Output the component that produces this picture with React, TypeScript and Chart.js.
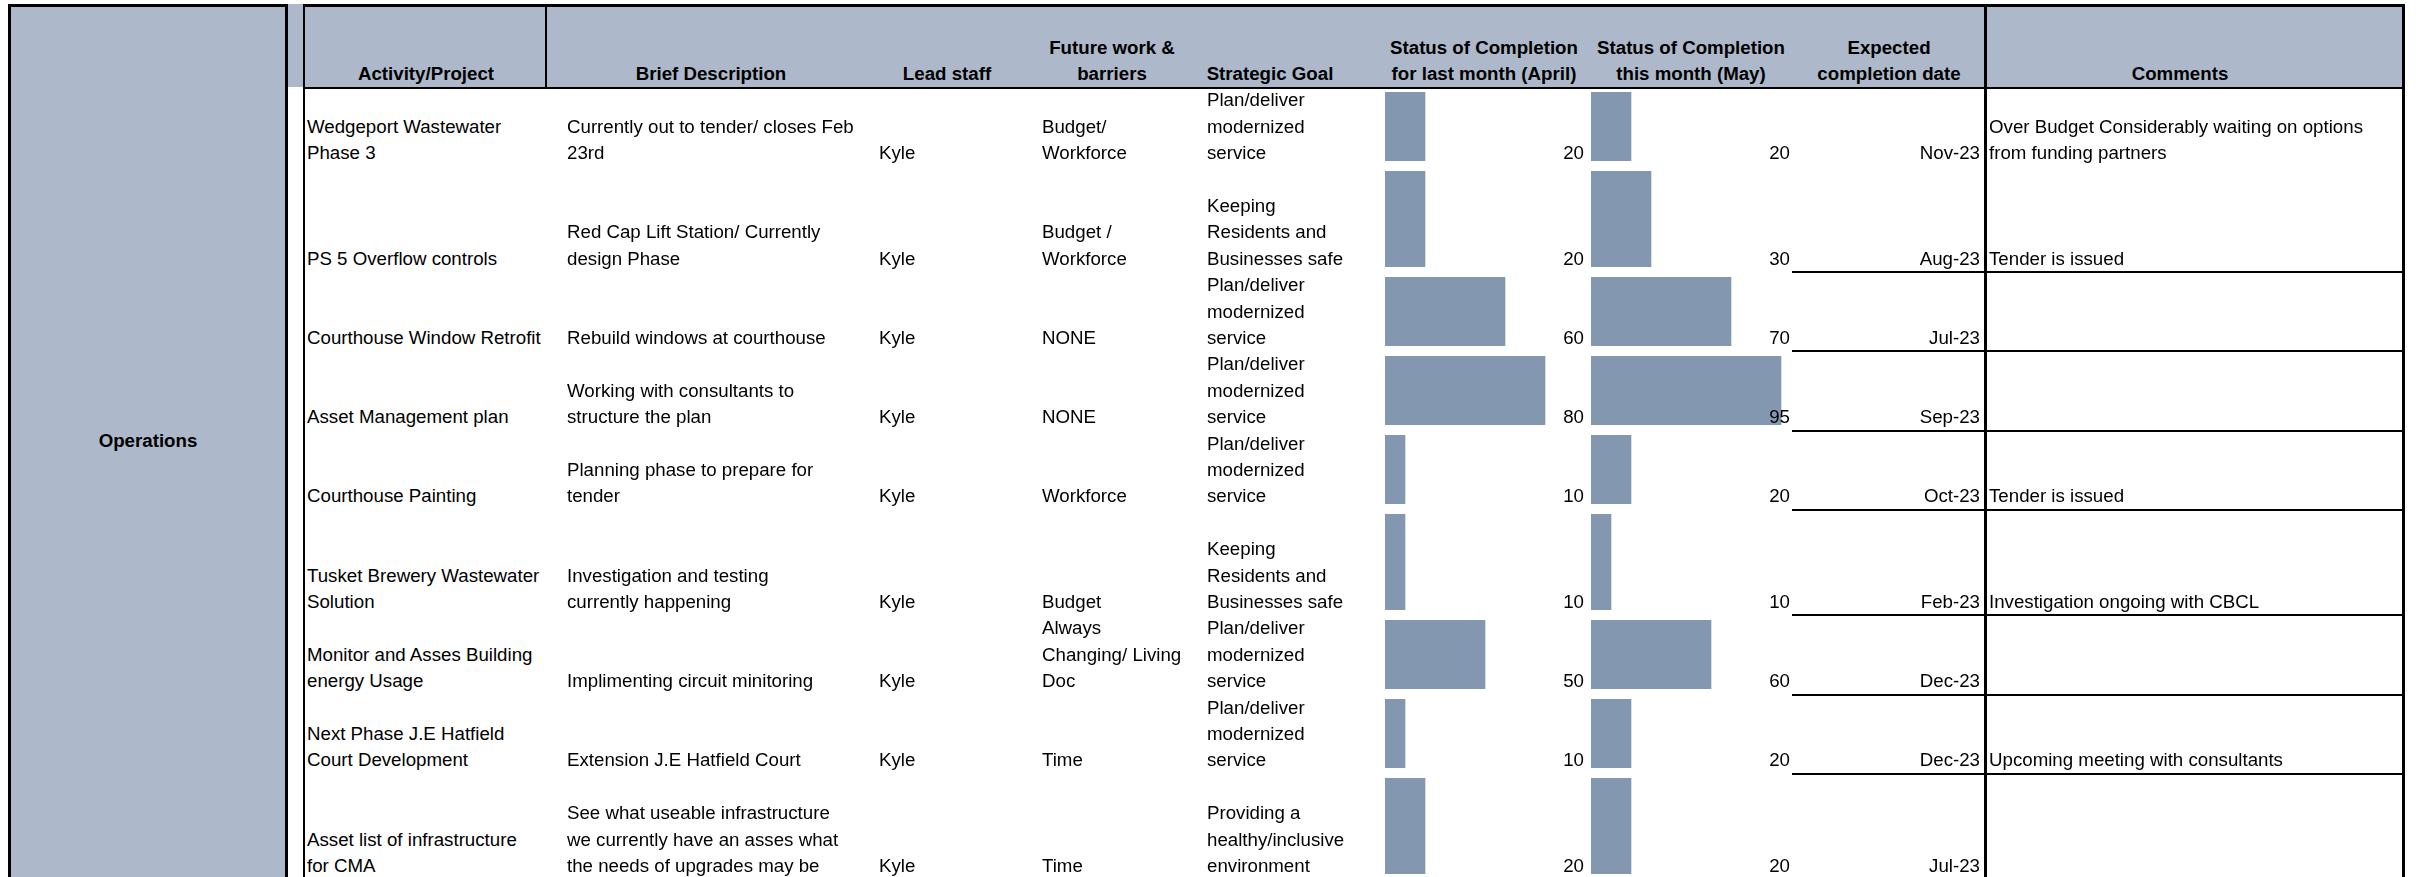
import React, { useEffect, useRef } from "react";
import { Chart, registerables } from "chart.js";

Chart.register(...registerables);

// ---------- data ----------
const department = "Operations";

const headerLabels = [
  "Activity/Project",
  "Brief Description",
  "Lead staff",
  "Future work &\nbarriers",
  "Strategic Goal",
  "Status of Completion\nfor last month (April)",
  "Status of Completion\nthis month (May)",
  "Expected\ncompletion date",
  "Comments",
];

const activities = [
  "Wedgeport Wastewater\nPhase 3",
  "PS 5 Overflow controls",
  "Courthouse Window Retrofit",
  "Asset Management plan",
  "Courthouse Painting",
  "Tusket Brewery Wastewater\nSolution",
  "Monitor and Asses Building\nenergy Usage",
  "Next Phase J.E Hatfield\nCourt Development",
  "Asset list of infrastructure\nfor CMA",
];

const descriptions = [
  "Currently out to tender/ closes Feb\n23rd",
  "Red Cap Lift Station/ Currently\ndesign Phase",
  "Rebuild windows at courthouse",
  "Working with consultants to\nstructure the plan",
  "Planning phase to prepare for\ntender",
  "Investigation and testing\ncurrently happening",
  "Implimenting circuit minitoring",
  "Extension J.E Hatfield Court",
  "See what useable infrastructure\nwe currently have an asses what\nthe needs of upgrades may be",
];

const leadStaff = ["Kyle", "Kyle", "Kyle", "Kyle", "Kyle", "Kyle", "Kyle", "Kyle", "Kyle"];

const barriers = [
  "Budget/\nWorkforce",
  "Budget /\nWorkforce",
  "NONE",
  "NONE",
  "Workforce",
  "Budget",
  "Always\nChanging/ Living\nDoc",
  "Time",
  "Time",
];

const strategicGoals = [
  "Plan/deliver\nmodernized\nservice",
  "Keeping\nResidents and\nBusinesses safe",
  "Plan/deliver\nmodernized\nservice",
  "Plan/deliver\nmodernized\nservice",
  "Plan/deliver\nmodernized\nservice",
  "Keeping\nResidents and\nBusinesses safe",
  "Plan/deliver\nmodernized\nservice",
  "Plan/deliver\nmodernized\nservice",
  "Providing a\nhealthy/inclusive\nenvironment",
];

const aprilStatus = [20, 20, 60, 80, 10, 10, 50, 10, 20];
const mayStatus = [20, 30, 70, 95, 20, 10, 60, 20, 20];

const completionDates = ["Nov-23", "Aug-23", "Jul-23", "Sep-23", "Oct-23", "Feb-23", "Dec-23", "Dec-23", "Jul-23"];

const comments = [
  "Over Budget Considerably waiting on options\nfrom funding partners",
  "Tender is issued",
  "",
  "",
  "Tender is issued",
  "Investigation ongoing with CBCL",
  "",
  "Upcoming meeting with consultants",
  "",
];

// ---------- layout / style ----------
const rowLines = [3, 4, 3, 3, 3, 4, 3, 3, 4];
const LINE_H = 26.4;
const HEADER_TOP = 4;
const HEADER_BOTTOM = 87.4;
const FONT = '"Liberation Sans", Arial, sans-serif';
const FONT_SIZE = 18.7;
const HEADER_BG = "#ADB9CA";
const BAR_COLOR = "#8497B0";

const rowTops: number[] = [];
{
  let y = HEADER_BOTTOM;
  for (const n of rowLines) {
    rowTops.push(y);
    y += n * LINE_H;
  }
}

function StatusBar({ value, left, top, height }: { value: number; left: number; top: number; height: number }) {
  const ref = useRef<HTMLCanvasElement | null>(null);
  useEffect(() => {
    const canvas = ref.current;
    if (!canvas) return;
    const chart = new Chart(canvas, {
      type: "bar",
      data: {
        labels: [""],
        datasets: [
          {
            data: [value],
            backgroundColor: BAR_COLOR,
            borderWidth: 0,
            barPercentage: 1,
            categoryPercentage: 1,
          },
        ],
      },
      options: {
        indexAxis: "y",
        responsive: false,
        animation: false,
        events: [],
        layout: { padding: 0 },
        plugins: { legend: { display: false }, tooltip: { enabled: false } },
        scales: {
          x: { display: false, min: 0, max: 100 },
          y: { display: false },
        },
      },
    });
    return () => chart.destroy();
  }, [value, height]);
  return (
    <canvas
      ref={ref}
      width={200}
      height={height}
      style={{ position: "absolute", left, top, width: 200, height }}
    />
  );
}

const textBase: React.CSSProperties = {
  position: "absolute",
  display: "flex",
  flexDirection: "column",
  justifyContent: "flex-end",
  whiteSpace: "pre",
  lineHeight: `${LINE_H}px`,
  fontFamily: FONT,
  fontSize: FONT_SIZE,
  color: "#000",
  zIndex: 2,
};

function Cell({
  text,
  x,
  top,
  height,
  align,
  bold,
}: {
  text: string;
  x: number;
  top: number;
  height: number;
  align: "left" | "right" | "center";
  bold?: boolean;
}) {
  const w = 420;
  let left = x;
  if (align === "right") left = x - w;
  if (align === "center") left = x - w / 2;
  return (
    <div style={{ ...textBase, left, top, height, width: w, textAlign: align, fontWeight: bold ? "bold" : "normal" }}>
      {text.split("\n").map((l, i) => (
        <div key={i}>{l}</div>
      ))}
    </div>
  );
}

function Line({ x, y, w, h }: { x: number; y: number; w: number; h: number }) {
  return <div style={{ position: "absolute", left: x, top: y, width: w, height: h, background: "#000", zIndex: 3 }} />;
}

const headerCenters = [426, 711, 947, 1112, 1270, 1484, 1691, 1889, 2180];

export default function App() {
  const rowLinesDrawn = [1, 2, 3, 4, 5, 6, 7];
  return (
    <div
      style={{
        position: "fixed",
        left: 0,
        top: 0,
        width: 2416,
        height: 877,
        overflow: "hidden",
        background: "#fff",
        fontFamily: FONT,
      }}
    >
      {/* left merged panel */}
      <div
        style={{
          position: "absolute",
          left: 8,
          top: 4,
          width: 280,
          height: 890,
          background: HEADER_BG,
          boxSizing: "border-box",
          border: "3px solid #000",
        }}
      />
      <div
        style={{
          position: "absolute",
          left: 8,
          top: 4,
          width: 280,
          height: 874,
          display: "flex",
          alignItems: "center",
          justifyContent: "center",
          fontWeight: "bold",
          fontSize: FONT_SIZE,
          fontFamily: FONT,
          zIndex: 4,
        }}
      >
        {department}
      </div>

      {/* header fill */}
      <div style={{ position: "absolute", left: 288, top: 4, width: 2117, height: HEADER_BOTTOM - 4, background: HEADER_BG }} />

      {/* header texts */}
      {headerLabels.map((h, i) => (
        <Cell key={"h" + i} text={h} x={headerCenters[i]} top={HEADER_TOP} height={HEADER_BOTTOM - HEADER_TOP} align="center" bold />
      ))}

      {/* bars */}
      {aprilStatus.map((v, i) => (
        <StatusBar key={"a" + i} value={v} left={1385} top={Math.round(rowTops[i] + 4.5)} height={Math.round(rowLines[i] * LINE_H - 10)} />
      ))}
      {mayStatus.map((v, i) => (
        <StatusBar key={"m" + i} value={v} left={1591} top={Math.round(rowTops[i] + 4.5)} height={Math.round(rowLines[i] * LINE_H - 10)} />
      ))}

      {/* body texts */}
      {activities.map((_, i) => {
        const top = rowTops[i];
        const h = rowLines[i] * LINE_H;
        return (
          <React.Fragment key={"r" + i}>
            <Cell text={activities[i]} x={307} top={top} height={h} align="left" />
            <Cell text={descriptions[i]} x={567} top={top} height={h} align="left" />
            <Cell text={leadStaff[i]} x={879} top={top} height={h} align="left" />
            <Cell text={barriers[i]} x={1042} top={top} height={h} align="left" />
            <Cell text={strategicGoals[i]} x={1207} top={top} height={h} align="left" />
            <Cell text={String(aprilStatus[i])} x={1584} top={top} height={h} align="right" />
            <Cell text={String(mayStatus[i])} x={1790} top={top} height={h} align="right" />
            <Cell text={completionDates[i]} x={1980} top={top} height={h} align="right" />
            <Cell text={comments[i]} x={1989} top={top} height={h} align="left" />
          </React.Fragment>
        );
      })}

      {/* grid lines */}
      <Line x={303} y={4} w={2102} h={2.5} />
      <Line x={303} y={4} w={2} h={880} />
      <Line x={545} y={4} w={2} h={HEADER_BOTTOM - 4} />
      <Line x={303} y={HEADER_BOTTOM - 0.5} w={2102} h={2} />
      <Line x={1984} y={4} w={2.5} h={880} />
      <Line x={2402} y={4} w={3} h={880} />
      {rowLinesDrawn.map((r) => (
        <Line key={"l" + r} x={1792} y={rowTops[r + 1] - 1} w={612} h={2} />
      ))}
    </div>
  );
}
